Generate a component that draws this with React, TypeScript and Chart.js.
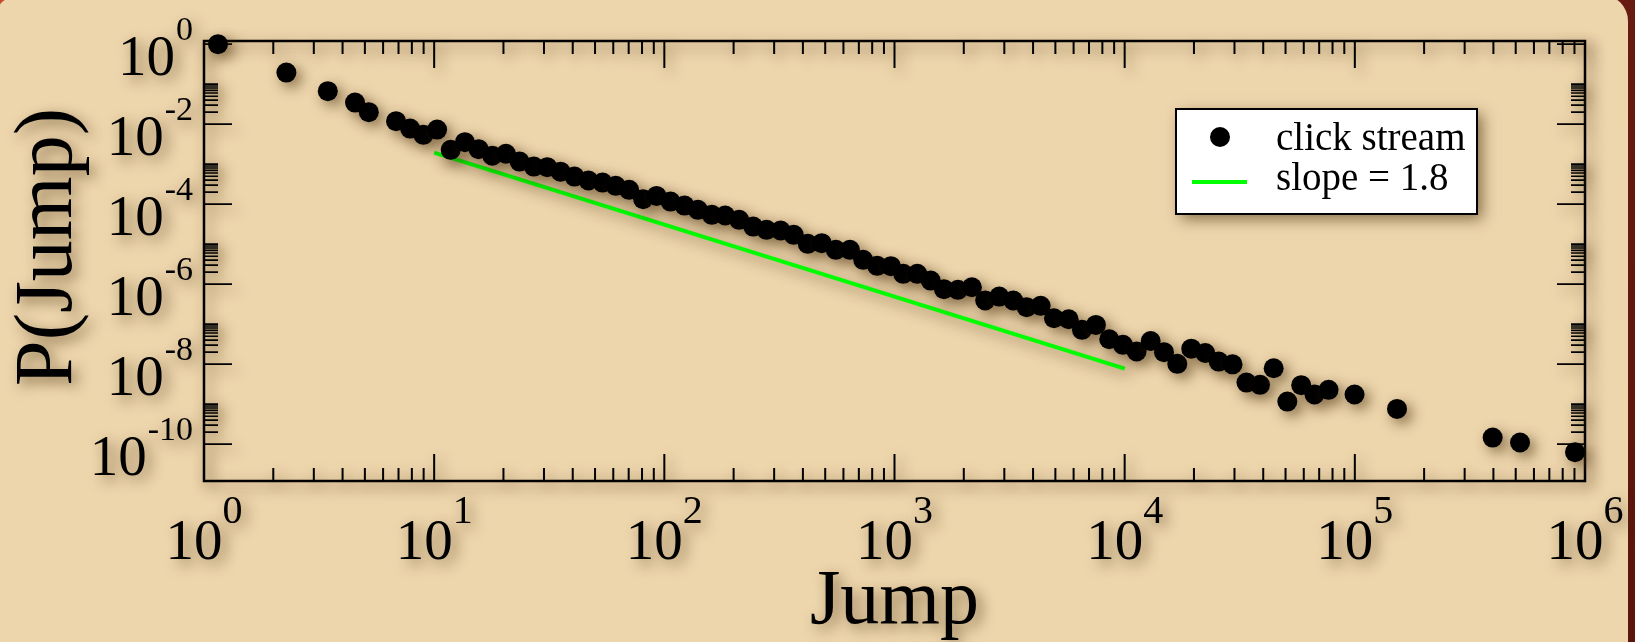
import React, { useEffect, useRef } from "react";
import { Chart, registerables } from "chart.js";

Chart.register(...registerables);

// Jump size (x) and empirical probability P(Jump) (y) of the click stream
const jumpSizes = [
  1.15, 2.28, 3.45, 4.53, 5.2, 6.83, 7.86, 8.98, 10.3, 11.8,
  13.6, 15.6, 17.9, 20.5, 23.5, 27.1, 31.0, 35.4, 40.7, 46.8,
  53.9, 61.5, 70.3, 80.9, 92.5, 106.4, 122.4, 139.9, 160.9, 183.8,
  211.4, 243.2, 278, 320, 365, 420, 483, 556, 640, 731,
  841, 965, 1091, 1256, 1436, 1640, 1886, 2169, 2478, 2851,
  3280, 3751, 4315, 4931, 5710, 6523, 7500, 8570, 9830, 11270,
  12970, 14820, 16930, 19470, 22390, 25620, 29420, 33820, 38730, 44400,
  50900, 58480, 66800, 76900, 99700, 152500, 397000, 522000, 905000,
];
const jumpProbabilities = [
  1.0, 0.195, 0.0668, 0.0347, 0.02, 0.0119, 0.00776, 0.0054, 0.00733, 0.00228,
  0.00355, 0.00237, 0.00162, 0.00182, 0.00116, 8.7e-4, 8.4e-4, 6.5e-4, 4.9e-4, 3.9e-4,
  3.47e-4, 2.87e-4, 2.28e-4, 1.33e-4, 1.61e-4, 1.16e-4, 9.2e-5, 7.2e-5, 5.4e-5, 5.2e-5,
  4.05e-5, 2.75e-5, 2.28e-5, 2.19e-5, 1.71e-5, 1.02e-5, 1.06e-5, 7.2e-6, 7.2e-6, 4.05e-6,
  2.87e-6, 2.82e-6, 1.81e-6, 1.81e-6, 1.23e-6, 7.5e-7, 7.2e-7, 8.4e-7, 3.9e-7, 4.9e-7,
  3.9e-7, 2.66e-7, 2.87e-7, 1.41e-7, 1.33e-7, 7.2e-8, 9.6e-8, 4.2e-8, 3.04e-8, 2.07e-8,
  3.78e-8, 2.0e-8, 1.02e-8, 2.44e-8, 1.9e-8, 1.16e-8, 9.9e-9, 3.47e-9, 3.04e-9, 7.9e-9,
  1.16e-9, 2.99e-9, 1.74e-9, 2.28e-9, 1.74e-9, 7.6e-10, 1.46e-10, 1.1e-10, 6.3e-11,
];

// Power-law guide: P = A * Jump^(-slope), drawn between the two range ends
const fitSlope = 1.8;
const fitAmplitude = 10 ** -0.91;
const fitRange = [10, 10000];

// Axis limits and labelled decades
const xLimits = [1, 1e6];
const yLimits = [1.2e-11, 1.2];
const xTickExponents = [0, 1, 2, 3, 4, 5, 6];
const yTickExponents = [0, -2, -4, -6, -8, -10];

const seriesLabels = ["click stream", "slope = 1.8"];
const xTitle = "Jump";
const yTitle = "P(Jump)";

const SERIF = '"Liberation Serif", "Times New Roman", Times, serif';
const PANEL = "#EDD5AC";
const SHADOW = "rgba(70, 45, 12, 0.62)";

function applyShadow(ctx: CanvasRenderingContext2D) {
  ctx.shadowColor = SHADOW;
  ctx.shadowBlur = 14;
  ctx.shadowOffsetX = 5;
  ctx.shadowOffsetY = 5;
}

function shadowed(ctx: CanvasRenderingContext2D, draw: () => void) {
  ctx.save();
  applyShadow(ctx);
  draw();
  ctx.restore();
}

const panelPlugin = {
  id: "panel",
  beforeDraw(chart: any) {
    const { ctx, width, height } = chart;
    ctx.save();
    const g = ctx.createLinearGradient(0, 0, width, height);
    g.addColorStop(0, "#C64A2E");
    g.addColorStop(0.5, "#8E2A1A");
    g.addColorStop(1, "#5A150D");
    ctx.fillStyle = g;
    ctx.fillRect(0, 0, width, height);
    ctx.fillStyle = PANEL;
    ctx.beginPath();
    ctx.roundRect(-6, -5, width - 7 + 6, height + 60, 26);
    ctx.fill();
    ctx.restore();
  },
};

const axesPlugin = {
  id: "logAxes",
  beforeDatasetsDraw(chart: any) {
    const { ctx, chartArea } = chart;
    const xs = chart.scales.x;
    const ys = chart.scales.y;
    const { left, right, top, bottom } = chartArea;

    shadowed(ctx, () => {
      ctx.strokeStyle = "#000";
      ctx.lineCap = "butt";

      // frame
      ctx.lineWidth = 2.5;
      ctx.strokeRect(left, top, right - left, bottom - top);

      // x ticks (bottom and top, pointing inward)
      const xMajorLen = 27;
      const xMinorLen = 13;
      ctx.beginPath();
      for (const e of xTickExponents) {
        const v = 10 ** e;
        if (v >= xLimits[0] && v <= xLimits[1]) {
          const px = xs.getPixelForValue(v);
          ctx.moveTo(px, bottom);
          ctx.lineTo(px, bottom - xMajorLen);
          ctx.moveTo(px, top);
          ctx.lineTo(px, top + xMajorLen);
        }
        for (let k = 2; k <= 9; k++) {
          const m = k * 10 ** e;
          if (m <= xLimits[0] || m >= xLimits[1]) continue;
          const px = xs.getPixelForValue(m);
          ctx.moveTo(px, bottom);
          ctx.lineTo(px, bottom - xMinorLen);
          ctx.moveTo(px, top);
          ctx.lineTo(px, top + xMinorLen);
        }
      }
      ctx.lineWidth = 2;
      ctx.stroke();

      // y ticks (left and right, pointing inward)
      const yMajorLen = 28;
      const yMinorLen = 14;
      ctx.beginPath();
      for (const e of yTickExponents) {
        const v = 10 ** e;
        const py = ys.getPixelForValue(v);
        ctx.moveTo(left, py);
        ctx.lineTo(left + yMajorLen, py);
        ctx.moveTo(right, py);
        ctx.lineTo(right - yMajorLen, py);
        for (let k = 2; k <= 10; k++) {
          const m = k * 10 ** e;
          if (m >= yLimits[1]) continue;
          const pm = ys.getPixelForValue(m);
          ctx.moveTo(left, pm);
          ctx.lineTo(left + yMinorLen, pm);
          ctx.moveTo(right, pm);
          ctx.lineTo(right - yMinorLen, pm);
        }
      }
      ctx.lineWidth = 1.6;
      ctx.stroke();

      // tick labels 10^n
      ctx.fillStyle = "#000";
      ctx.textBaseline = "alphabetic";
      const mainFont = `57px ${SERIF}`;
      for (const e of xTickExponents) {
        const px = xs.getPixelForValue(10 ** e);
        ctx.font = mainFont;
        const wMain = ctx.measureText("10").width;
        ctx.font = `40px ${SERIF}`;
        const sup = String(e);
        const wSup = ctx.measureText(sup).width;
        const start = px - (wMain + wSup) / 2;
        ctx.textAlign = "left";
        ctx.font = mainFont;
        ctx.fillText("10", start, bottom + 78);
        ctx.font = `40px ${SERIF}`;
        ctx.fillText(sup, start + wMain, bottom + 42);
      }
      for (const e of yTickExponents) {
        const py = ys.getPixelForValue(10 ** e);
        const edge = left - 11;
        ctx.textAlign = "right";
        ctx.font = `34px ${SERIF}`;
        const sup = String(e);
        const wSup = ctx.measureText(sup).width;
        ctx.fillText(sup, edge, py - 4);
        ctx.font = mainFont;
        ctx.fillText("10", edge - wSup - 1, py + 31);
      }

      // axis titles
      ctx.font = `78px ${SERIF}`;
      ctx.textAlign = "center";
      ctx.fillText(xTitle, (left + right) / 2, 623);
      ctx.save();
      ctx.font = `82px ${SERIF}`;
      ctx.translate(71, 247);
      ctx.rotate(-Math.PI / 2);
      ctx.fillText(yTitle, 0, 0);
      ctx.restore();
    });

    // datasets get the same soft drop shadow
    ctx.save();
    applyShadow(ctx);
  },
  afterDatasetsDraw(chart: any) {
    chart.ctx.restore();
  },
};

const legendPlugin = {
  id: "boxLegend",
  afterDraw(chart: any) {
    const { ctx } = chart;
    const [dots, fit] = chart.data.datasets;
    const bx = 1176, by = 109, bw = 301, bh = 105;
    ctx.save();
    shadowed(ctx, () => {
      ctx.fillStyle = "#fff";
      ctx.fillRect(bx, by, bw, bh);
    });
    ctx.strokeStyle = "#000";
    ctx.lineWidth = 2;
    ctx.strokeRect(bx, by, bw, bh);

    ctx.fillStyle = dots.backgroundColor;
    ctx.beginPath();
    ctx.arc(1220, 137, 10, 0, Math.PI * 2);
    ctx.fill();

    ctx.strokeStyle = fit.borderColor;
    ctx.lineWidth = fit.borderWidth;
    ctx.beginPath();
    ctx.moveTo(1192, 182);
    ctx.lineTo(1247, 182);
    ctx.stroke();

    ctx.fillStyle = "#000";
    ctx.font = `39px ${SERIF}`;
    ctx.textAlign = "left";
    ctx.textBaseline = "alphabetic";
    ctx.fillText(dots.label, 1276, 150);
    ctx.fillText(fit.label, 1276, 190);
    ctx.restore();
  },
};

export default function App() {
  const canvasRef = useRef<HTMLCanvasElement | null>(null);

  useEffect(() => {
    const canvas = canvasRef.current;
    if (!canvas) return;

    const points = jumpSizes.map((x, i) => ({ x, y: jumpProbabilities[i] }));
    const fitPoints = fitRange.map((x) => ({ x, y: fitAmplitude * x ** -fitSlope }));

    const chart = new Chart(canvas, {
      type: "scatter",
      data: {
        datasets: [
          {
            label: seriesLabels[0],
            data: points,
            backgroundColor: "#000",
            borderWidth: 0,
            pointRadius: 10,
            pointHoverRadius: 10,
            showLine: false,
            clip: false,
          },
          {
            label: seriesLabels[1],
            data: fitPoints,
            borderColor: "#00FF00",
            backgroundColor: "#00FF00",
            borderWidth: 4,
            pointRadius: 0,
            showLine: true,
            clip: false,
          },
        ],
      },
      options: {
        responsive: false,
        animation: false,
        devicePixelRatio: 1,
        layout: { padding: { left: 204, right: 50, top: 41, bottom: 161 } },
        plugins: {
          legend: { display: false },
          tooltip: { enabled: false },
        },
        events: [],
        scales: {
          x: { type: "logarithmic", min: xLimits[0], max: xLimits[1], display: false },
          y: { type: "logarithmic", min: yLimits[0], max: yLimits[1], display: false },
        },
      },
      plugins: [panelPlugin, axesPlugin, legendPlugin],
    });

    return () => chart.destroy();
  }, []);

  return (
    <div style={{ position: "fixed", left: 0, top: 0, width: 1635, height: 642, overflow: "hidden" }}>
      <canvas ref={canvasRef} width={1635} height={642} style={{ display: "block" }} />
    </div>
  );
}
